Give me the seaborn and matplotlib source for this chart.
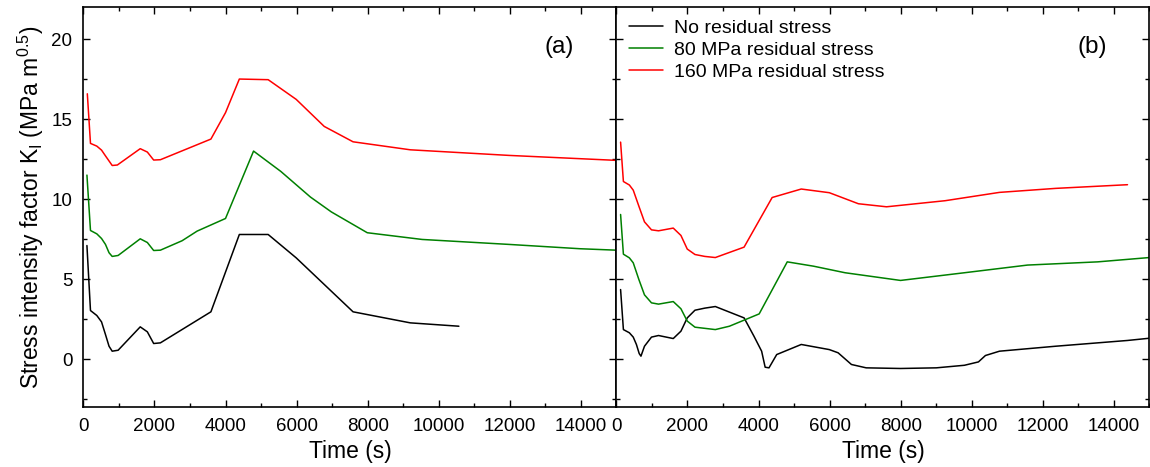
import pandas as pd
import matplotlib.pyplot as plt
import seaborn as sns
from matplotlib.ticker import MultipleLocator

# ---------------------------------------------------------
# data (time in s, K_I in MPa m^0.5)
# ---------------------------------------------------------
SERIES = ['No residual stress', '80 MPa residual stress', '160 MPa residual stress']
COLORS = ['#000000', '#008000', '#ff0000']

# panel (a)
a_t_none = [100, 200, 378, 511, 622, 722, 811, 978, 1600, 1800, 1978, 2167, 3589, 4389, 5200, 5989, 7589, 9200, 10567]
a_k_none = [7.1, 3.04, 2.73, 2.33, 1.54, 0.81, 0.5, 0.56, 2.02, 1.71, 0.98, 1.02, 2.96, 7.79, 7.79, 6.33, 2.96, 2.27, 2.06]

a_t_80 = [100, 200, 378, 511, 622, 722, 811, 978, 1600, 1800, 1978, 2167, 2778, 3200, 4000, 4789, 5556, 6389, 6978, 7989, 9533, 11978, 13978, 15000]
a_k_80 = [11.5, 8.04, 7.83, 7.54, 7.17, 6.65, 6.42, 6.48, 7.52, 7.29, 6.79, 6.81, 7.4, 8.0, 8.79, 13.0, 11.73, 10.13, 9.2, 7.9, 7.48, 7.17, 6.9, 6.81]

a_t_160 = [111, 200, 378, 511, 622, 811, 956, 1600, 1800, 1978, 2167, 3589, 4000, 4389, 5200, 5989, 6778, 7589, 9200, 11978, 15000]
a_k_160 = [16.58, 13.48, 13.31, 13.06, 12.7, 12.1, 12.13, 13.15, 12.94, 12.44, 12.46, 13.75, 15.4, 17.5, 17.46, 16.23, 14.54, 13.58, 13.08, 12.73, 12.42]

# panel (b)
b_t_none = [118, 197, 365, 474, 563, 642, 691, 790, 987, 1185, 1600, 1816, 1994, 2211, 2488, 2784, 3593, 3870, 4087, 4186, 4294, 4511,
            5202, 5992, 6239, 6614, 7029, 7996, 9003, 9793, 10188, 10385, 10780, 12359, 14383, 15000]
b_k_none = [4.35, 1.85, 1.65, 1.38, 0.92, 0.35, 0.19, 0.81, 1.38, 1.48, 1.29, 1.75, 2.58, 3.06, 3.19, 3.29, 2.58, 1.44, 0.5, -0.5, -0.54, 0.29,
            0.92, 0.6, 0.4, -0.33, -0.54, -0.58, -0.54, -0.38, -0.17, 0.23, 0.5, 0.81, 1.17, 1.31]

b_t_80 = [118, 197, 365, 474, 632, 790, 987, 1185, 1600, 1816, 1994, 2211, 2784, 3180, 4018, 4808, 5548, 6436, 7996, 9793, 11570, 13544, 15000]
b_k_80 = [9.04, 6.56, 6.33, 6.02, 4.98, 4.02, 3.52, 3.44, 3.6, 3.15, 2.38, 2.0, 1.85, 2.06, 2.83, 6.08, 5.81, 5.4, 4.92, 5.4, 5.88, 6.08, 6.35]

b_t_160 = [118, 197, 365, 474, 632, 790, 987, 1185, 1600, 1816, 1994, 2211, 2488, 2784, 3593, 4383, 5202, 5992, 6811, 7601, 9250, 10780, 12359, 14383]
b_k_160 = [13.56, 11.1, 10.88, 10.56, 9.56, 8.58, 8.08, 8.02, 8.19, 7.73, 6.88, 6.54, 6.42, 6.35, 7.0, 10.1, 10.63, 10.4, 9.71, 9.52, 9.9, 10.42, 10.67, 10.9]


def long_frame(pairs):
    frames = []
    for name, (t, k) in zip(SERIES, pairs):
        frames.append(pd.DataFrame({'time': t, 'K': k, 'case': name}))
    return pd.concat(frames, ignore_index=True)


df_a = long_frame([(a_t_none, a_k_none), (a_t_80, a_k_80), (a_t_160, a_k_160)])
df_b = long_frame([(b_t_none, b_k_none), (b_t_80, b_k_80), (b_t_160, b_k_160)])

# ---------------------------------------------------------
# plotting
# ---------------------------------------------------------
sns.set_style('ticks')
plt.rcParams['font.family'] = ['Liberation Sans', 'DejaVu Sans']
plt.rcParams['mathtext.default'] = 'regular'
plt.rcParams['xtick.direction'] = 'in'
plt.rcParams['ytick.direction'] = 'in'
for key in ['text.color', 'axes.labelcolor', 'xtick.color', 'ytick.color', 'axes.edgecolor']:
    plt.rcParams[key] = 'black'

fig = plt.figure(figsize=(11.5, 4.67), dpi=100)
ax1 = fig.add_axes([0.0725, 0.128, 0.4635, 0.857])
ax2 = fig.add_axes([0.536, 0.128, 0.4635, 0.857], sharey=ax1)

palette = dict(zip(SERIES, COLORS))
sns.lineplot(data=df_a, x='time', y='K', hue='case', palette=palette, sort=False,
             estimator=None, lw=1.1, ax=ax1, legend=False)
sns.lineplot(data=df_b, x='time', y='K', hue='case', palette=palette, sort=False,
             estimator=None, lw=1.1, ax=ax2)

for ax, tag in [(ax1, '(a)'), (ax2, '(b)')]:
    ax.set_xlim(0, 15000)
    ax.set_ylim(-3, 22)
    ax.xaxis.set_major_locator(MultipleLocator(2000))
    ax.xaxis.set_minor_locator(MultipleLocator(1000))
    ax.yaxis.set_major_locator(MultipleLocator(5))
    ax.yaxis.set_minor_locator(MultipleLocator(2.5))
    ax.tick_params(which='both', top=True, right=True, labelsize=13.5, length=5, width=1, pad=8)
    ax.tick_params(which='minor', length=3)
    for s in ax.spines.values():
        s.set_linewidth(1.2)
    ax.set_xlabel('Time (s)', fontsize=16.5, labelpad=3)
    ax.text(0.893, 0.90, tag, transform=ax.transAxes, fontsize=17.5, ha='center', va='center')

ax1.set_ylabel('Stress intensity factor K$_I$ (MPa m$^{0.5}$)', fontsize=16.5, labelpad=4)
ax2.set_ylabel('')
ax2.tick_params(labelleft=False)

leg = ax2.legend(loc='upper left', frameon=False, fontsize=14, handlelength=1.75,
                 borderaxespad=0.25, labelspacing=0.22, handletextpad=0.55)
leg.set_title(None)

fig.savefig('out.png', dpi=100)
